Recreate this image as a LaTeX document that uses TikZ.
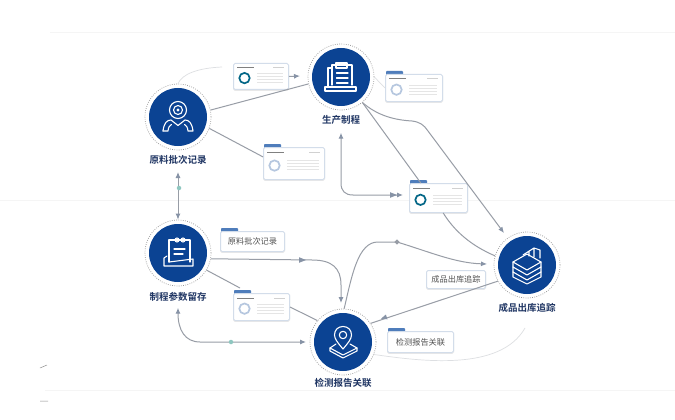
\documentclass[tikz,border=0pt]{standalone}
\usepackage{fontspec}
\setmainfont{Noto Sans CJK SC}
\newfontfamily\cjkb{Noto Sans CJK SC Bold}
\usetikzlibrary{arrows.meta,calc}
\definecolor{navy}{HTML}{0B4393}
\definecolor{labelc}{HTML}{1F3563}
\definecolor{conn}{HTML}{989DA6}
\definecolor{tip}{HTML}{8793A6}
\definecolor{cardb}{HTML}{D3DDEA}
\definecolor{tabc}{HTML}{4F7DBB}
\definecolor{pale}{HTML}{DDDFE2}
\definecolor{dotc}{HTML}{8FC7C0}
\tikzset{
  x=1pt,y=-1pt,
  hub/.style={circle,fill=navy,minimum size=58pt,inner sep=0pt},
  halo/.style={circle,draw=gray!80,dash pattern=on .8pt off 1.4pt,line width=.7pt,minimum size=66pt,inner sep=0pt},
  hublabel/.style={font=\cjkb\fontsize{9.5}{10}\selectfont,text=labelc,inner sep=0pt},
  conline/.style={draw=conn,line width=1pt},
  conarrow/.style={conline,-{Latex[length=6pt,width=5pt,color=tip]}},
  conboth/.style={conline,{Latex[length=6pt,width=5pt,color=tip]}-{Latex[length=6pt,width=5pt,color=tip]}},
  paleline/.style={draw=pale,line width=.7pt},
  cardbox/.style={draw=cardb,fill=white,line width=1pt,rounded corners=1.5pt,inner sep=0pt,anchor=north west,
    preaction={draw=black!9,line width=1pt,transform canvas={yshift=-.8pt}}},
  tabbox/.style={fill=tabc,rounded corners=.9pt},
  txtcard/.style={font=\fontsize{8.2}{9}\selectfont,text=black!68},
  icon/.style={draw=white,line width=1.1pt,line join=round,line cap=round},
  junction/.style={circle,fill=dotc,inner sep=0pt,minimum size=4.5pt},
}
\newcommand{\cardtab}[2]{\fill[tabbox] (#1,#2-3) rectangle ++(17,5);}
% miniature content of a card: #1 x, #2 y, #3 w, #4 h, #5 ring colour
\newcommand{\cardbody}[5]{%
  \fill[black!50] (#1+4,#2+4.5) rectangle ++(17,.8);
  \fill[black!18] (#1+#3-15,#2+4.5) rectangle ++(11,.7);
  \draw[#5,line width=1.7pt] (#1+11.5,#2+#4*.58) circle (5.2pt);
  \foreach \k in {0,1,2,3}{\fill[black!10] (#1+24,#2+#4*.4+\k*3) rectangle ++(#3-29,1);}
}
\begin{document}
\begin{tikzpicture}
\useasboundingbox (0,0) rectangle (675,420);
\fill[white] (0,0) rectangle (675,420);
% faint background rules
\draw[black!4,line width=.5pt] (50,32)--(675,32) (0,200)--(675,200) (45,390)--(675,390);
\draw[black!45,line width=.5pt] (40,368)--(47,365) (40,401)--(48,401);
% hubs
\node[halo] (hraw) at (178,117) {};
\node[halo] (hprod) at (341,77) {};
\node[halo] (hparam) at (178,253) {};
\node[halo] (htest) at (343,342) {};
\node[halo] (hship) at (527,265) {};
\node[hub] (raw) at (hraw.center) {};
\node[hub] (prod) at (hprod.center) {};
\node[hub] (param) at (hparam.center) {};
\node[hub] (test) at (htest.center) {};
\node[hub] (ship) at (hship.center) {};
\node[hublabel] (lraw) at (178,160) {原料批次记录};
\node[hublabel] (lprod) at (341,120) {生产制程};
\node[hublabel] (lparam) at (178,297) {制程参数留存};
\node[hublabel] (ltest) at (343,383) {检测报告关联};
\node[hublabel] (lship) at (527,308) {成品出库追踪};
% cards
\node[cardbox,minimum width=55pt,minimum height=26pt] (c1) at (233,63) {};
\cardtab{264}{147}
\node[cardbox,minimum width=61pt,minimum height=32pt] (c2) at (263,147) {};
\cardtab{386}{74}
\node[cardbox,minimum width=57pt,minimum height=27pt] (c3) at (385,74) {};
\cardtab{410}{183}
\node[cardbox,minimum width=58pt,minimum height=29pt] (c4) at (409,183) {};
\cardtab{221}{231}
\node[cardbox,txtcard,minimum width=64pt,minimum height=20pt] (c5) at (220,231) {原料批次记录};
\cardtab{234}{293}
\node[cardbox,minimum width=56pt,minimum height=27pt] (c6) at (233,293) {};
\node[cardbox,txtcard,minimum width=59pt,minimum height=18pt] (c7) at (426,270) {成品出库追踪};
\cardtab{388}{331}
\node[cardbox,txtcard,minimum width=66pt,minimum height=21pt] (c8) at (387,331) {检测报告关联};
\cardbody{233}{63}{55}{26}{teal!60!navy}
\cardbody{263}{147}{61}{32}{navy!30}
\cardbody{385}{74}{57}{27}{navy!30}
\cardbody{409}{183}{58}{29}{teal!60!navy}
\cardbody{233}{293}{56}{27}{navy!30}
% connectors
\coordinate (a1) at (222,67);
\draw[paleline] (hraw.north) .. controls (182,74) and (198,68) .. (a1);
\draw[conarrow] (c1.east) -- (300,76);
\draw[conline] (hraw.12) -- (hprod.192);
\draw[conline] (hraw.-20) -- ($(c2.north west)!.3!(c2.south west)$);
\draw[conboth] (178,172) -- (hparam.north);
\node[junction] (j1) at (179,188) {};
\draw[paleline] (hprod.east) -- (c3.west);
\draw[conline] (hprod.-50) -- ($(c4.north west)!.2!(c4.north east)$);
\draw[conline] ($(c4.south west)!.58!(c4.south east)$) .. controls (455,232) and (472,246) .. (hship.164);
\draw[conarrow] (hprod.-50) .. controls (378,116) and (395,120) .. (412,121) .. controls (420,122) and (424,125) .. (428,131) -- (504,233);
\draw[conboth] (lprod.south) ++(0,8) -- (341,183) .. controls (341,191) and (345,195) .. (353,195) -- (403,195);
\fill[tip] (397,195) -- (390,192.2) -- (390,197.8) -- cycle;
\draw[conarrow] (hparam.-10) -- (312,260) .. controls (332,260) and (341,268) .. (341,285) -- (341,303);
\fill[tip] (306,260) -- (299,257.2) -- (299,262.8) -- cycle;
\draw[conline] (hparam.-31) -- (240,288);
\draw[conline] (c6.east) -- (htest.140);
\draw[conboth] (lparam.south) ++(0,6) .. controls (178,330) and (185,342) .. (200,342) -- (306,342);
\node[junction] (j2) at (231,342) {};
\draw[conarrow] (htest.88) .. controls (352,275) and (358,242) .. (378,242) -- (397,242) .. controls (430,252) and (455,263) .. (487,264);
\fill[conn] (397,239.3) -- (399.7,242) -- (397,244.7) -- (394.3,242) -- cycle;
\draw[conline] (hship.209) -- (htest.34);
\fill[tip] (381,318.7) -- (387.5,319.3) -- (385.9,314.5) -- cycle;
\draw[paleline] (htest.-22) .. controls (420,361) and (500,372) .. (525,328);
% icon: person
\draw[icon] (178,110) circle (8.5pt) (178,110) circle (4.5pt);
\fill[white] (178,110) circle (1.6pt);
\draw[icon] (163,131) .. controls (164,123) and (167,120) .. (171,120) -- (178,125.5) -- (185,120) .. controls (189,120) and (192,123) .. (193,131) -- (188,131) .. controls (187.5,127) and (186.5,125.5) .. (184.5,124.5);
\draw[icon] (163,131) -- (168,131) .. controls (168.5,127) and (169.5,125.5) .. (171.5,124.5);
% icon: clipboard
\draw[icon] (332,85) -- (332,65) -- (352,65) -- (352,85);
\draw[icon] (328,87) -- (328,68) -- (332,68);
\draw[icon] (336,63) rectangle (347,68);
\draw[icon] (336.5,73) -- (348,73) (336.5,78) -- (348,78) (336.5,83) -- (348,83);
\draw[icon] (325,87) -- (356,87) -- (356,91) -- (325,91) -- cycle;
% icon: note on tray
\draw[icon] (169,262) -- (169,240) -- (190,240) -- (190,262);
\draw[icon] (177,240) circle (2pt) (183,240) circle (2pt);
\draw[icon] (174,249) -- (185,249) (174,254) -- (183,254);
\draw[icon] (167,256) -- (164,258) -- (164,266) -- (193,266) -- (193,259) -- (169,262);
% icon: location pin over layers
\draw[icon] (343,349) .. controls (338,343) and (334.5,339) .. (334.5,335) .. controls (334.5,330) and (338,326.5) .. (343,326.5) .. controls (348,326.5) and (351.5,330) .. (351.5,335) .. controls (351.5,339) and (348,343) .. (343,349) -- cycle;
\draw[icon] (343,335) circle (3.7pt);
\draw[icon] (336,344) -- (330,348) -- (343,355) -- (357,348) -- (350,344);
\draw[icon] (330,348) -- (330,351) -- (343,358) -- (357,351) -- (357,348);
% icon: stack of layers
\draw[icon] (513,262) -- (527,254) -- (541,262) -- (527,270) -- cycle;
\draw[icon] (513,262) -- (513,267) -- (527,275) -- (541,267) -- (541,262);
\draw[icon] (513,267) -- (513,272) -- (527,280) -- (541,272) -- (541,267);
\draw[icon] (513,272) -- (513,277) -- (527,284) -- (541,277) -- (541,272);
\draw[icon] (523,255) -- (534,248) -- (540,250) -- (540,258) (534,248) -- (534,257) (529,251) -- (529,256);
\end{tikzpicture}
\end{document}
